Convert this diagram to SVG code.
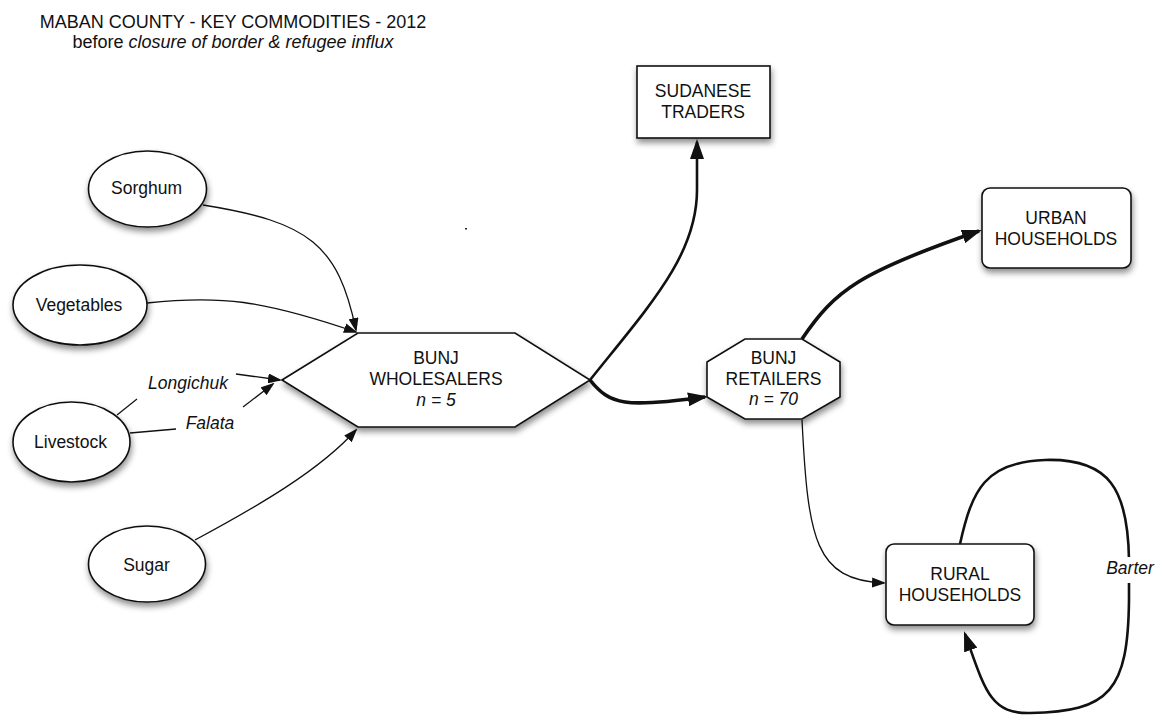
<svg xmlns="http://www.w3.org/2000/svg" width="1158" height="716" viewBox="0 0 1158 716">
<style>
text{font-family:"Liberation Sans",Arial,Helvetica,sans-serif;font-size:17.5px;fill:#111;text-anchor:middle}
.it{font-style:italic}
.title{font-size:18px}
.shape{fill:#fff;stroke:#111;stroke-width:1.6;filter:url(#sh)}
.thin{fill:none;stroke:#111;stroke-width:1.3}
.mid{fill:none;stroke:#111;stroke-width:2.6}
.thick{fill:none;stroke:#111;stroke-width:3.6}
</style>
<defs>
<filter id="sh" x="-20%" y="-20%" width="140%" height="150%">
<feDropShadow dx="1" dy="4" stdDeviation="3" flood-color="#000" flood-opacity="0.45"/>
</filter>
<marker id="as" viewBox="0 0 14 10" refX="12" refY="5" markerWidth="14" markerHeight="10" markerUnits="userSpaceOnUse" orient="auto">
<path d="M0,0 L14,5 L0,10 z" fill="#111"/>
</marker>
<marker id="al" viewBox="0 0 20 14" refX="17" refY="7" markerWidth="20" markerHeight="14" markerUnits="userSpaceOnUse" orient="auto">
<path d="M0,0 L20,7 L0,14 z" fill="#111"/>
</marker>
</defs>
<rect width="1158" height="716" fill="#fff"/>
<g id="title">
<text class="title" x="233" y="28">MABAN COUNTY - KEY COMMODITIES - 2012</text>
<text class="title" x="233" y="48">before <tspan class="it">closure of border &amp; refugee influx</tspan></text>
</g>
<rect x="465" y="228" width="2" height="1.5" fill="#222"/>
<g id="connectors">
<path class="thin" d="M203,205 C310,222 338,245 356,330" marker-end="url(#as)"/>
<path class="thin" d="M147,303 C220,295 262,300 356,332" marker-end="url(#as)"/>
<path class="thin" d="M117,415 L137,399"/>
<path class="thin" d="M236,374 L280,380" marker-end="url(#as)"/>
<path class="thin" d="M130,433 L176,429"/>
<path class="thin" d="M243,407 L273,384" marker-end="url(#as)"/>
<path class="thin" d="M195,540 C260,505 320,470 356,430" marker-end="url(#as)"/>
<path class="mid" d="M590,380 C650,305 697,255 697,190 L697,142" marker-end="url(#al)"/>
<path class="thick" d="M590,380 C610,405 625,408 705,397" marker-end="url(#al)"/>
<path class="thick" d="M802,339 C835,290 860,272 979,231" marker-end="url(#al)"/>
<path class="thin" d="M802,420 C808,540 815,580 884,583" marker-end="url(#as)"/>
<path class="mid" d="M960,544 C972,490 985,462 1045,460 C1110,458 1128,490 1129,560 L1129,600 C1128,690 1110,712 1030,713 C990,714 985,690 965,634" marker-end="url(#al)"/>
<rect x="1102" y="557" width="56" height="26" fill="#fff"/>
<text class="it" x="1130" y="574">Barter</text>
<text class="it" x="188" y="389">Longichuk</text>
<text class="it" x="210" y="429">Falata</text>
</g>
<g id="sorghum">
<ellipse class="shape" cx="147.5" cy="189" rx="59" ry="38"/>
<text x="146.5" y="194">Sorghum</text>
</g>
<g id="vegetables">
<ellipse class="shape" cx="80" cy="305" rx="67" ry="40"/>
<text x="79" y="311">Vegetables</text>
</g>
<g id="livestock">
<ellipse class="shape" cx="71.5" cy="442" rx="58.5" ry="40"/>
<text x="70.5" y="448">Livestock</text>
</g>
<g id="sugar">
<ellipse class="shape" cx="147" cy="564" rx="58.5" ry="38"/>
<text x="146.5" y="571">Sugar</text>
</g>
<g id="wholesalers">
<polygon class="shape" points="282,380 358,333 515,333 590,380 515,427 358,427"/>
<text x="436" y="364">BUNJ</text>
<text x="436" y="385">WHOLESALERS</text>
<text class="it" x="436" y="406">n = 5</text>
</g>
<g id="sudanese">
<rect class="shape" x="637" y="66" width="133" height="72"/>
<text x="703" y="97">SUDANESE</text>
<text x="703" y="118">TRADERS</text>
</g>
<g id="retailers">
<polygon class="shape" points="745,339 802,339 840,362 840,397 802,419 745,419 707,397 707,362"/>
<text x="773.5" y="364">BUNJ</text>
<text x="773.5" y="385">RETAILERS</text>
<text class="it" x="773.5" y="405">n = 70</text>
</g>
<g id="urban">
<rect class="shape" x="982" y="188" width="149" height="80" rx="8"/>
<text x="1056" y="224">URBAN</text>
<text x="1056" y="245">HOUSEHOLDS</text>
</g>
<g id="rural">
<rect class="shape" x="886" y="544" width="148" height="81" rx="8"/>
<text x="960" y="580">RURAL</text>
<text x="960" y="601">HOUSEHOLDS</text>
</g>
</svg>
